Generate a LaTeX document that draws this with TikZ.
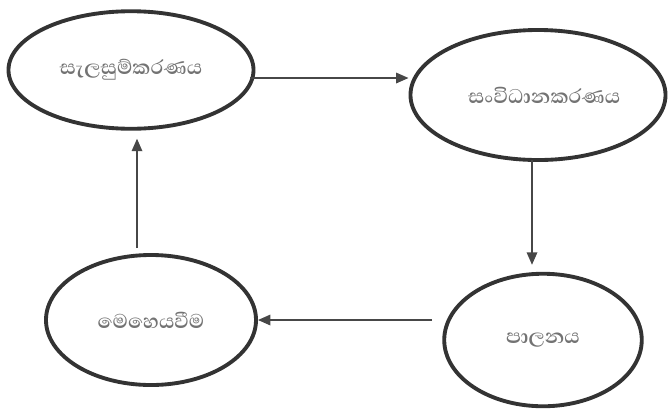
\documentclass[tikz,border=0pt]{standalone}
\usepackage{fontspec}
\newfontfamily\sinfont[Script=Sinhala]{Abhaya Libre}
\usetikzlibrary{shapes.geometric,arrows.meta}
\begin{document}
\begin{tikzpicture}[x=0.04cm,y=-0.04cm,
  bubble/.style={ellipse, draw=black!80, line width=4.4pt, inner sep=0pt,
    font=\sinfont\bfseries\fontsize{29}{33}\selectfont, text=black!55},
  link/.style={draw=black!72, line width=2pt,
    -{Triangle[length=0.5cm,width=0.42cm]}}]
\useasboundingbox[fill=white] (0,0) rectangle (670,409);
\node[bubble, minimum width=9.8cm, minimum height=4.7cm] (plan) at (131,70) {සැලසුම්කරණය};
\node[bubble, minimum width=10.2cm, minimum height=5.2cm] (org) at (538,95) {\hspace*{0.5cm}සංවිධානකරණය};
\node[bubble, minimum width=7.9cm, minimum height=5.3cm] (ctrl) at (543,340) {පාලනය};
\node[bubble, minimum width=8.4cm, minimum height=5.2cm] (lead) at (151,320) {මෙහෙයවීම};
\coordinate (aS) at (250,78);
\draw[link] (aS) -- (aS -| org.west);
\coordinate (bS) at (532,160);
\draw[link, shorten >=0.28cm] (bS) -- (bS |- ctrl.north);
\coordinate (cS) at (432,320);
\draw[link] (cS) -- (cS -| lead.east);
\coordinate (dS) at (137,248);
\draw[link, shorten >=0.32cm] (dS) -- (dS |- plan.south);
\end{tikzpicture}
\end{document}
